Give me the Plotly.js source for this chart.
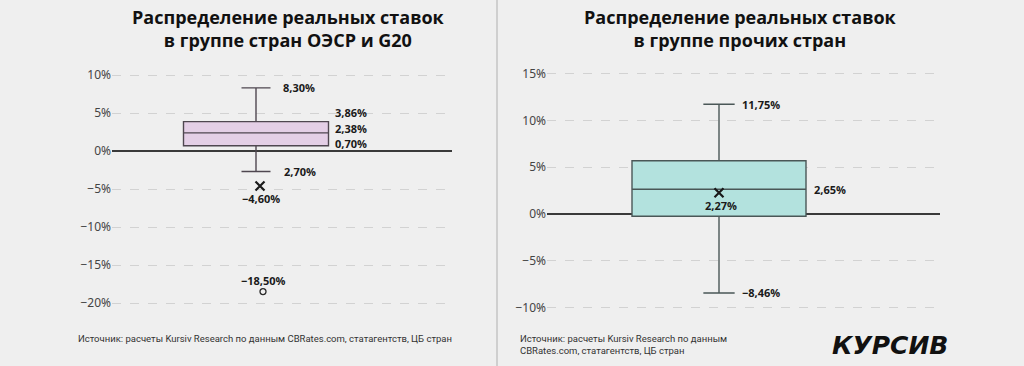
<!DOCTYPE html>
<html>
<head>
<meta charset="utf-8">
<script src="https://cdn.plot.ly/plotly-3.0.1.min.js"></script>
<style>
  html, body { margin: 0; padding: 0; background: #efefef; }
  #chart { width: 1024px; height: 366px; }
</style>
</head>
<body>
<div id="chart"></div>
<script>
// ---- Data ----
const titleLeft = ['Распределение реальных ставок', 'в группе стран ОЭСР и G20'];
const titleRight = ['Распределение реальных ставок', 'в группе прочих стран'];

// OECD & G20 box statistics, %
const oecdLowerFence = -2.70;
const oecdQ1 = 0.70;
const oecdMedian = 2.38;
const oecdQ3 = 3.86;
const oecdUpperFence = 8.30;
const oecdMean = -4.60;
const oecdOutliers = [-18.50];

// Other countries box statistics, %
const otherLowerFence = -8.46;
const otherQ1 = -0.25;
const otherMedian = 2.65;
const otherQ3 = 5.70;
const otherUpperFence = 11.75;
const otherMean = 2.27;

// tick labels
const leftTickVals = [10, 5, 0, -5, -10, -15, -20];
const leftTickText = ['10%', '5%', '0%', '−5%', '−10%', '−15%', '−20%'];
const rightTickVals = [15, 10, 5, 0, -5, -10];
const rightTickText = ['15%', '10%', '5%', '0%', '−5%', '−10%'];

// value labels
const oecdLabels = ['8,30%', '3,86%', '2,38%', '0,70%', '2,70%', '−4,60%', '−18,50%'];
const otherLabels = ['11,75%', '2,65%', '2,27%', '−8,46%'];

const sourceText = 'Источник: расчеты Kursiv Research по данным CBRates.com, статагентств, ЦБ стран';
const sourceRight = ['Источник: расчеты Kursiv Research по данным', 'CBRates.com, статагентств, ЦБ стран'];
const logoText = 'КУРСИВ';

// ---- Geometry helpers (pixel layout) ----
const W = 1024, H = 366;
const px = v => v / W;
const py = v => 1 - v / H;

const lx = 144, lw = 145;   // left box centre / width in axis units
const rx = 172, rw = 174;   // right box centre / width

const markColor = '#1a1a1a';

const traces = [
  {
    type: 'box', xaxis: 'x', yaxis: 'y',
    x: [lx], q1: [oecdQ1], median: [oecdMedian], q3: [oecdQ3],
    lowerfence: [oecdLowerFence], upperfence: [oecdUpperFence],
    width: lw, whiskerwidth: 0.2, boxpoints: false,
    fillcolor: '#e4cfe6', line: { color: '#4f4750', width: 1.4 },
    hoverinfo: 'skip', showlegend: false
  },
  {
    type: 'scatter', mode: 'markers', xaxis: 'x', yaxis: 'y',
    x: [lx + 4], y: [oecdMean],
    marker: { symbol: 'x-thin-open', size: 9, color: markColor, line: { width: 2.2, color: markColor } },
    showlegend: false, hoverinfo: 'skip'
  },
  {
    type: 'scatter', mode: 'markers', xaxis: 'x', yaxis: 'y',
    x: oecdOutliers.map(() => lx + 7), y: oecdOutliers,
    marker: { symbol: 'circle-open', size: 6, color: '#2a2a2a', line: { width: 1.3, color: '#2a2a2a' } },
    showlegend: false, hoverinfo: 'skip'
  },
  {
    type: 'box', xaxis: 'x2', yaxis: 'y2',
    x: [rx], q1: [otherQ1], median: [otherMedian], q3: [otherQ3],
    lowerfence: [otherLowerFence], upperfence: [otherUpperFence],
    width: rw, whiskerwidth: 0.18, boxpoints: false,
    fillcolor: '#b3e2de', line: { color: '#4a5757', width: 1.4 },
    hoverinfo: 'skip', showlegend: false
  },
  {
    type: 'scatter', mode: 'markers', xaxis: 'x2', yaxis: 'y2',
    x: [rx], y: [otherMean],
    marker: { symbol: 'x-thin-open', size: 9, color: markColor, line: { width: 2.2, color: markColor } },
    showlegend: false, hoverinfo: 'skip'
  }
];

const labelFont = { family: 'Open Sans, Noto Sans, sans-serif', size: 11, color: '#1a1a1a', weight: 700 };
const ann = (xref, yref, x, y, text, xanchor, yshift) => ({
  xref, yref, x, y, text, xanchor, yanchor: 'middle', yshift: yshift || 0,
  showarrow: false, font: labelFont
});

const titleFont = { family: 'Open Sans, Noto Sans, sans-serif', size: 18, color: '#111', weight: 700 };
const srcFont = { family: 'Roboto, sans-serif', size: 9.5, color: '#333' };

const annotations = [
  // titles
  { xref: 'paper', yref: 'paper', x: px(288), y: py(28.5), text: titleLeft.join('<br>'), showarrow: false, xanchor: 'center', yanchor: 'middle', font: titleFont },
  { xref: 'paper', yref: 'paper', x: px(740), y: py(29), text: titleRight.join('<br>'), showarrow: false, xanchor: 'center', yanchor: 'middle', font: titleFont },
  // left labels
  ann('x', 'y', 169, oecdUpperFence, oecdLabels[0], 'left', 0),
  ann('x', 'y', 221, oecdQ3, oecdLabels[1], 'left', 9),
  ann('x', 'y', 221, oecdMedian, oecdLabels[2], 'left', 4.5),
  ann('x', 'y', 221, oecdQ1, oecdLabels[3], 'left', 2.5),
  ann('x', 'y', 170, oecdLowerFence, oecdLabels[4], 'left', 0),
  ann('x', 'y', lx + 5, oecdMean, oecdLabels[5], 'center', -13),
  ann('x', 'y', lx + 7, oecdOutliers[0], oecdLabels[6], 'center', 11),
  // right labels
  ann('x2', 'y2', 193, otherUpperFence, otherLabels[0], 'left', 0),
  ann('x2', 'y2', 265, otherMedian, otherLabels[1], 'left', 0),
  ann('x2', 'y2', rx + 2, otherMean, otherLabels[2], 'center', -13),
  ann('x2', 'y2', 193, otherLowerFence, otherLabels[3], 'left', 0),
  // sources
  { xref: 'paper', yref: 'paper', x: px(265), y: py(338), text: sourceText, showarrow: false, xanchor: 'center', yanchor: 'middle', font: srcFont },
  { xref: 'paper', yref: 'paper', x: px(518), y: py(344), text: sourceRight.join('<br>'), align: 'left', showarrow: false, xanchor: 'left', yanchor: 'middle', font: srcFont },
  // logo
  { xref: 'paper', yref: 'paper', x: px(890), y: py(345), text: logoText, showarrow: false, xanchor: 'center', yanchor: 'middle',
    font: { family: 'DejaVu Sans, sans-serif', size: 25, color: '#111', weight: 900, style: 'italic' } }
];

const yCommon = {
  showgrid: true, gridcolor: '#d2d2d2', griddash: 'dash', gridwidth: 1,
  zeroline: true, zerolinecolor: '#3a3a3a', zerolinewidth: 1.5,
  showline: false, ticks: '', tickmode: 'array',
  tickfont: { family: 'Noto Sans, Open Sans, sans-serif', size: 12, color: '#444' },
  fixedrange: true
};
const xCommon = { showgrid: false, zeroline: false, showline: false, showticklabels: false, ticks: '', fixedrange: true };

const layout = {
  width: W, height: H,
  margin: { l: 0, r: 0, t: 0, b: 0 },
  paper_bgcolor: '#efefef', plot_bgcolor: 'rgba(0,0,0,0)',
  showlegend: false,
  xaxis: Object.assign({}, xCommon, { domain: [px(112), px(452)], range: [0, 340], anchor: 'y' }),
  yaxis: Object.assign({}, yCommon, { domain: [py(318.2), py(59.8)], range: [-22, 12], tickvals: leftTickVals, ticktext: leftTickText, anchor: 'x' }),
  xaxis2: Object.assign({}, xCommon, { domain: [px(547), px(940)], range: [0, 393], anchor: 'y2' }),
  yaxis2: Object.assign({}, yCommon, { domain: [py(316.7), py(55.2)], range: [-11, 17], tickvals: rightTickVals, ticktext: rightTickText, anchor: 'x2' }),
  shapes: [
    { type: 'line', xref: 'paper', yref: 'paper', x0: px(497), x1: px(497), y0: 0, y1: 1, line: { color: '#cfcfcf', width: 2 } }
  ],
  annotations: annotations
};

Plotly.newPlot('chart', traces, layout, { displayModeBar: false, staticPlot: true });
</script>
</body>
</html>
